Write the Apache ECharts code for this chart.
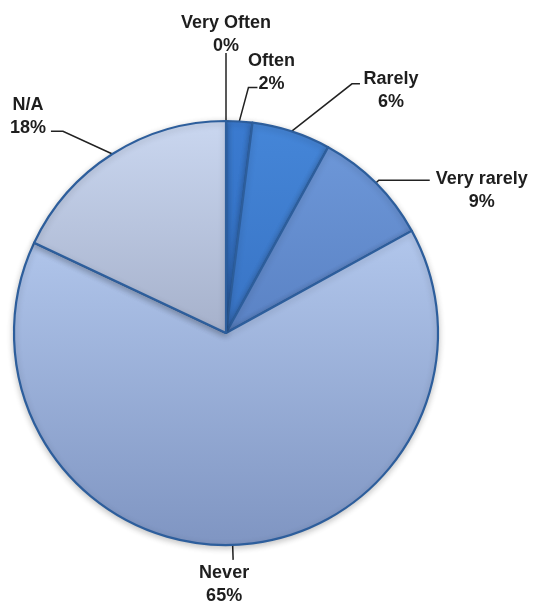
<!DOCTYPE html>
<html>
<head>
<meta charset="utf-8">
<script src="https://cdn.jsdelivr.net/npm/echarts@6/dist/echarts.min.js"></script>
<style>
html,body{margin:0;padding:0;background:#fff;}
#chart{width:533px;height:603px;}
</style>
</head>
<body>
<div id="chart"></div>
<script>
// ---- data ----
const categories = ['Very Often', 'Often', 'Rarely', 'Very rarely', 'Never', 'N/A'];
const values = [0, 2, 6, 9, 65, 18];

// ---- styles ----
const sliceColors = [
  ['#3a7acf', '#2f6cc0'],
  ['#3b7bd0', '#316dbf'],
  ['#4586d8', '#3873c4'],
  ['#6d97d8', '#5a82c4'],
  ['#b2c7ec', '#7f95c2'],
  ['#cad7f0', '#a6b1cb']
];
// label placement relative to the end of the library's leader line
const labelStyle = [
  {len: 68, len2: 0,  knee: 0,  align: 'center', vAlign: 'bottom', dx: 0,   dy: 5},
  {len: 34, len2: 16, knee: 9,  align: 'center', vAlign: 'middle', dx: 14,  dy: -15},
  {len: 50, len2: 53, knee: 8,  align: 'center', vAlign: 'middle', dx: 31,  dy: 7},
  {len: 4,  len2: 51, knee: 0,  align: 'center', vAlign: 'middle', dx: 52,  dy: 10},
  {len: 15, len2: 0,  knee: 0,  align: 'center', vAlign: 'top',    dx: -9,  dy: 2},
  {len: 27, len2: 47, knee: 12, align: 'center', vAlign: 'middle', dx: -23, dy: -15}
];

const chart = echarts.init(document.getElementById('chart'), null, {renderer: 'canvas'});

const seriesData = categories.map((name, i) => ({
  name: name,
  value: values[i],
  itemStyle: {
    color: {
      type: 'linear', x: 0, y: 0, x2: 0, y2: 1,
      colorStops: [
        {offset: 0, color: sliceColors[i][0]},
        {offset: 1, color: sliceColors[i][1]}
      ]
    }
  },
  labelLine: {length: labelStyle[i].len, length2: labelStyle[i].len2}
}));

chart.setOption({
  animation: false,
  backgroundColor: '#ffffff',
  series: [{
    type: 'pie',
    center: [226, 333],
    radius: 212,
    startAngle: 90,
    clockwise: true,
    avoidLabelOverlap: false,
    data: seriesData,
    itemStyle: {
      borderColor: '#2d5e9c',
      borderWidth: 2.2,
      shadowBlur: 6,
      shadowColor: 'rgba(0,0,0,0.22)',
      shadowOffsetY: 2
    },
    label: {
      show: true,
      position: 'outside',
      formatter: (p) => p.name + '\n' + Math.round(p.percent) + '%',
      fontFamily: '"Liberation Sans", Arial, sans-serif',
      fontWeight: 'bold',
      fontSize: 18,
      lineHeight: 23,
      color: '#1e1e1e',
      distanceToLabelLine: 0
    },
    labelLine: {
      show: true,
      lineStyle: {color: '#222', width: 1.5}
    },
    labelLayout: function (params) {
      const cfg = labelStyle[params.dataIndex];
      const pts = params.labelLinePoints;
      if (!pts) return {};
      const end = pts[pts.length - 1];
      let linePts = pts;
      if (cfg.knee > 0) {
        const prev = pts[1];
        const sign = end[0] >= prev[0] ? 1 : -1;
        linePts = [pts[0], [end[0] - sign * cfg.knee, end[1]], end];
      }
      return {
        x: end[0] + cfg.dx,
        y: end[1] + cfg.dy,
        align: cfg.align,
        verticalAlign: cfg.vAlign,
        labelLinePoints: linePts
      };
    }
  }]
});
</script>
</body>
</html>
